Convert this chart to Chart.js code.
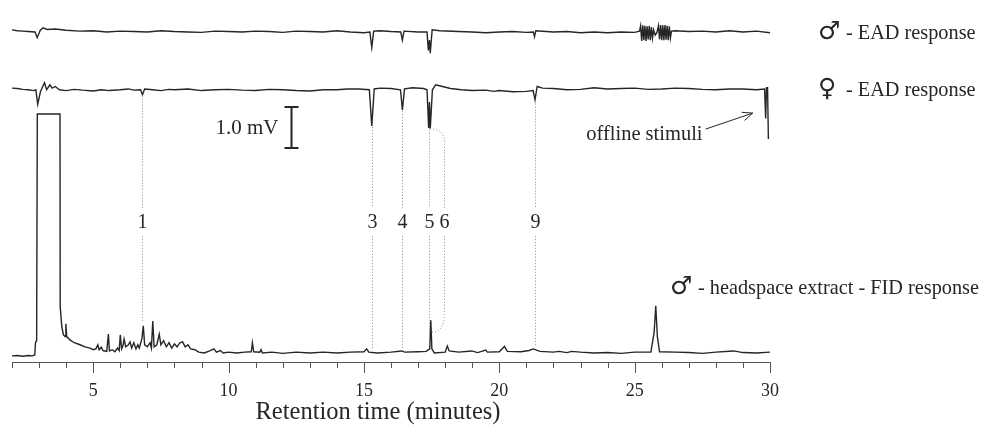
<!DOCTYPE html>
<html>
<head>
<meta charset="utf-8">
<script src="https://cdn.jsdelivr.net/npm/chart.js@4.4.0/dist/chart.umd.min.js"></script>
<style>
  html, body { margin: 0; padding: 0; background: #fff; }
  #wrap { width: 982px; height: 430px; }
</style>
</head>
<body>
<div id="wrap"><canvas id="gcead" width="982" height="430"></canvas></div>
<script>
// retention time axis (minutes)
const timeMin = 2;
const timeMax = 30;
const axisTitle = "Retention time (minutes)";

// FID trace of the male headspace extract: [minutes, mV above baseline]
const fidTrace = [
  [2.0,-0.07],[2.2,-0.06],[2.4,-0.08],[2.6,-0.06],[2.75,-0.07],[2.84,-0.05],[2.87,0.26],[2.91,0.3],
  [2.935,5.83],[3.773,5.83],[3.78,1.13],[3.84,0.64],[3.9,0.44],[3.96,0.4],[3.99,0.71],[4.02,0.4],
  [4.14,0.32],[4.3,0.25],[4.51,0.2],[4.7,0.15],[4.88,0.12],[5.0,0.08],[5.1,0.1],[5.17,0.2],[5.22,0.08],
  [5.3,0.14],[5.36,0.06],[5.5,0.04],[5.56,0.46],[5.6,0.05],[5.7,0.08],[5.8,0.03],[5.9,0.12],[5.96,0.06],
  [6.0,0.44],[6.05,0.1],[6.1,0.18],[6.14,0.34],[6.2,0.15],[6.3,0.2],[6.36,0.27],[6.42,0.12],[6.5,0.25],
  [6.58,0.1],[6.65,0.2],[6.7,0.12],[6.8,0.35],[6.85,0.66],[6.9,0.2],[7.0,0.15],[7.1,0.25],[7.15,0.12],
  [7.2,0.78],[7.25,0.15],[7.35,0.2],[7.44,0.46],[7.5,0.2],[7.6,0.3],[7.7,0.15],[7.8,0.25],[7.9,0.12],
  [8.0,0.22],[8.1,0.15],[8.2,0.25],[8.3,0.27],[8.4,0.15],[8.5,0.2],[8.6,0.1],[8.75,0.08],[8.9,0.02],
  [9.1,0.0],[9.3,0.05],[9.46,0.1],[9.55,0.02],[9.7,0.06],[9.8,0.0],[10.0,0.02],[10.3,0.0],[10.6,0.02],
  [10.84,0.03],[10.88,0.25],[10.93,0.03],[11.15,0.02],[11.2,0.08],[11.25,0.0],[11.6,0.02],[12.0,-0.01],
  [12.5,0.02],[13.0,0.0],[13.5,0.02],[14.0,0.0],[14.5,0.02],[15.0,0.03],[15.1,0.1],[15.18,0.02],[15.5,0.0],
  [16.0,0.02],[16.4,0.05],[16.5,0.02],[17.0,0.03],[17.3,0.04],[17.43,0.1],[17.47,0.8],[17.51,0.1],[17.6,0.0],
  [18.0,0.02],[18.08,0.17],[18.15,0.05],[18.5,0.02],[18.98,0.05],[19.2,0.01],[19.5,0.07],[19.56,0.02],
  [20.0,0.03],[20.19,0.16],[20.3,0.04],[20.8,0.03],[21.1,0.06],[21.26,0.1],[21.5,0.04],[22.0,0.02],
  [22.2,0.04],[22.5,0.01],[22.67,0.04],[23.0,0.02],[23.5,0.0],[24.0,0.01],[24.5,-0.01],[25.0,0.02],
  [25.6,0.02],[25.72,0.5],[25.78,1.15],[25.84,0.4],[25.92,0.03],[26.5,0.02],[27.0,0.01],[27.5,-0.01],
  [28.0,0.02],[28.66,0.05],[29.0,0.01],[29.5,0.0],[30.0,0.02]
];

// female antenna EAD: [minutes, mV from resting level]
const femaleEad = [
  [2.0,0.04],[2.2,0.03],[2.4,0.01],[2.6,0.0],[2.8,-0.02],[2.88,0.0],[2.95,-0.35],[3.05,-0.05],[3.2,0.17],
  [3.28,0.0],[3.4,0.12],[3.48,0.04],[3.6,0.08],[3.75,0.0],[4.0,-0.02],[4.3,0.01],[4.6,-0.01],[5.0,-0.03],
  [5.3,0.0],[5.6,-0.02],[6.0,0.0],[6.3,0.02],[6.5,-0.01],[6.75,0.0],[6.82,-0.12],[6.9,0.02],[7.2,0.0],
  [7.5,-0.02],[7.8,0.01],[8.0,0.0],[8.5,0.02],[9.0,-0.02],[9.5,0.0],[10.0,0.01],[10.5,-0.01],[11.0,-0.02],
  [11.5,0.01],[12.0,0.0],[12.5,-0.02],[13.0,-0.03],[13.5,0.0],[14.0,0.0],[14.4,0.02],[14.8,0.02],[15.2,0.0],
  [15.29,-0.88],[15.38,0.02],[15.6,0.04],[16.0,0.03],[16.35,0.0],[16.42,-0.49],[16.5,0.02],[16.8,0.05],
  [17.2,0.03],[17.33,0.0],[17.37,-0.6],[17.39,-0.93],[17.42,-0.3],[17.45,-0.95],[17.53,0.0],[17.65,0.12],
  [17.9,0.08],[18.2,0.03],[18.6,0.0],[19.0,-0.02],[19.5,-0.01],[19.8,-0.04],[20.0,-0.02],[20.5,-0.05],
  [21.0,-0.04],[21.25,-0.02],[21.32,-0.24],[21.4,0.08],[21.6,0.04],[22.0,0.03],[22.5,0.0],[23.0,0.01],
  [23.5,0.05],[24.0,0.02],[24.5,0.03],[25.0,0.04],[25.5,0.01],[26.0,0.02],[26.5,0.04],[27.0,0.03],
  [27.5,0.01],[28.0,0.0],[28.5,0.02],[29.0,0.02],[29.5,0.0],[29.8,0.02],[29.84,-0.7],[29.87,0.05],
  [29.91,0.05],[29.94,-1.2]
];

// male antenna EAD: [minutes, mV from resting level]
const maleEad = [
  [2.0,0.05],[2.2,0.03],[2.4,0.02],[2.6,0.01],[2.85,0.0],[2.93,-0.14],[3.05,0.05],[3.15,0.1],[3.3,0.06],
  [3.6,0.07],[4.0,0.04],[4.5,0.02],[5.0,0.03],[5.5,0.0],[6.0,0.02],[6.5,0.01],[7.0,0.0],[7.5,0.03],
  [8.0,0.01],[8.5,0.0],[9.0,-0.01],[9.5,0.02],[10.0,0.01],[10.5,0.0],[11.0,0.02],[11.5,0.01],[12.0,-0.01],
  [12.5,0.02],[13.0,0.01],[13.5,0.0],[14.0,0.03],[14.5,0.0],[15.0,-0.02],[15.22,0.0],[15.29,-0.38],
  [15.36,0.02],[15.6,0.03],[16.0,0.01],[16.36,0.0],[16.42,-0.2],[16.48,0.02],[17.0,0.0],[17.33,0.0],
  [17.38,-0.45],[17.42,-0.2],[17.45,-0.52],[17.52,0.05],[17.8,0.03],[18.5,0.01],[19.0,0.0],[19.5,-0.02],
  [20.0,0.0],[20.5,0.01],[21.0,-0.01],[21.26,0.0],[21.3,-0.12],[21.35,0.03],[22.0,0.0],[22.5,0.01],
  [23.0,-0.02],[23.5,0.0],[24.0,-0.02],[24.5,0.0],[25.0,-0.01],[25.18,0.02],
  [25.22,0.15],[25.26,-0.22],[25.3,0.16],[25.34,-0.2],[25.38,0.15],[25.42,-0.22],[25.46,0.14],[25.5,-0.18],
  [25.54,0.15],[25.58,-0.2],[25.62,0.12],[25.66,-0.15],[25.7,0.05],[25.76,-0.08],[25.82,-0.02],[25.88,0.15],
  [25.92,-0.18],[25.96,0.17],[26.0,-0.2],[26.04,0.16],[26.08,-0.2],[26.12,0.17],[26.16,-0.19],[26.2,0.15],
  [26.24,-0.2],[26.28,0.14],[26.32,-0.15],[26.36,0.02],[26.5,0.03],[27.0,0.01],[27.5,0.02],[28.0,0.0],
  [28.5,0.03],[29.0,0.0],[29.5,0.02],[30.0,-0.02]
];

// vertical stacking of the traces (mV)
const femaleOffset = 6.42;
const maleOffset = 7.83;

// EAD-active compounds
const peakNumbers = ["1", "3", "4", "5", "6", "9"];
const peakTimes = [6.8, 15.29, 16.42, 17.39, 17.96, 21.31];

// trace captions
const traceSymbols = ["\u2642", "\u2640", "\u2642"];
const traceCaptions = ["- EAD response", "- EAD response", "- headspace extract - FID response"];
const scaleBarText = "1.0 mV";
const stimuliText = "offline stimuli";

const serif = '"Liberation Serif", "Times New Roman", serif';
const ink = "#262626";

function toPoints(trace, offset) {
  return trace.map(p => ({ x: p[0], y: p[1] + offset }));
}

// value of a trace near a time (min or max)
function traceNear(trace, t, pick) {
  const vals = trace.filter(p => Math.abs(p[0] - t) <= 0.06).map(p => p[1]);
  return vals.length ? pick(...vals) : 0;
}

const annotations = {
  id: "gcAnnotations",
  afterDraw(chart) {
    const { ctx, chartArea, scales: { x, y } } = chart;
    ctx.save();

    // tick marks, long every 5 minutes
    ctx.strokeStyle = "#555";
    ctx.lineWidth = 1;
    x.ticks.forEach(t => {
      const px = Math.round(x.getPixelForValue(t.value)) + 0.5;
      const len = t.value % 5 === 0 ? 11 : 6;
      ctx.beginPath();
      ctx.moveTo(px, chartArea.bottom);
      ctx.lineTo(px, chartArea.bottom + len);
      ctx.stroke();
    });

    // axis title
    ctx.fillStyle = ink;
    ctx.font = "24.5px " + serif;
    ctx.textAlign = "center";
    ctx.textBaseline = "middle";
    ctx.fillText(axisTitle, x.getPixelForValue(15.52), chartArea.bottom + 51);

    // dotted guides and compound numbers
    const labelY = y.getPixelForValue(3.2);
    ctx.strokeStyle = "#8a8a8a";
    ctx.setLineDash([1, 2]);
    ctx.font = "20px " + serif;
    peakNumbers.forEach((num, i) => {
      const t = peakTimes[i];
      const px = Math.round(x.getPixelForValue(t)) + 0.5;
      ctx.fillText(num, px, labelY + 1);
      if (num === "6") {
        // bracket joining 6 to the double response at 5
        const x5 = x.getPixelForValue(17.44);
        const topY = y.getPixelForValue(traceNear(femaleEad, 17.45, Math.min) + femaleOffset);
        const botY = y.getPixelForValue(traceNear(fidTrace, 17.47, Math.max)) + 12;
        ctx.beginPath();
        ctx.moveTo(x5, topY);
        ctx.quadraticCurveTo(px, topY, px, topY + 14);
        ctx.lineTo(px, labelY - 14);
        ctx.moveTo(px, labelY + 14);
        ctx.lineTo(px, botY - 20);
        ctx.quadraticCurveTo(px, botY, x5 + 2, botY);
        ctx.stroke();
        return;
      }
      const top = y.getPixelForValue(traceNear(femaleEad, t, Math.min) + femaleOffset) + 1;
      const bottom = y.getPixelForValue(traceNear(fidTrace, t, Math.max)) - 3;
      ctx.beginPath();
      ctx.moveTo(px, top);
      ctx.lineTo(px, labelY - 14);
      ctx.moveTo(px, labelY + 14);
      ctx.lineTo(px, bottom);
      ctx.stroke();
    });
    ctx.setLineDash([]);

    // 1 mV scale bar
    const bx = Math.round(x.getPixelForValue(12.31)) + 0.5;
    const b0 = y.getPixelForValue(5.0);
    const b1 = y.getPixelForValue(6.0);
    ctx.strokeStyle = ink;
    ctx.lineWidth = 2;
    ctx.beginPath();
    ctx.moveTo(bx, b0); ctx.lineTo(bx, b1);
    ctx.moveTo(bx - 7, b0); ctx.lineTo(bx + 7, b0);
    ctx.moveTo(bx - 7, b1); ctx.lineTo(bx + 7, b1);
    ctx.stroke();
    ctx.textAlign = "right";
    ctx.font = "21px " + serif;
    ctx.fillText(scaleBarText, bx - 13, (b0 + b1) / 2 + 1);

    // offline stimuli arrow
    ctx.font = "20.5px " + serif;
    const ax0 = x.getPixelForValue(27.62), ay0 = y.getPixelForValue(5.46);
    const ax1 = x.getPixelForValue(29.36), ay1 = y.getPixelForValue(5.85);
    ctx.fillText(stimuliText, ax0 - 3, ay0 + 5);
    ctx.lineWidth = 1;
    ctx.beginPath();
    ctx.moveTo(ax0, ay0); ctx.lineTo(ax1, ay1);
    const ang = Math.atan2(ay1 - ay0, ax1 - ax0);
    ctx.moveTo(ax1 - 11 * Math.cos(ang - 0.4), ay1 - 11 * Math.sin(ang - 0.4));
    ctx.lineTo(ax1, ay1);
    ctx.lineTo(ax1 - 11 * Math.cos(ang + 0.4), ay1 - 11 * Math.sin(ang + 0.4));
    ctx.stroke();

    // trace captions on the right
    const rows = [
      { y: y.getPixelForValue(maleOffset) + 1, sx: 818, tx: 846 },
      { y: y.getPixelForValue(femaleOffset), sx: 818, tx: 846 },
      { y: y.getPixelForValue(1.6), sx: 670, tx: 698 }
    ];
    rows.forEach((r, i) => {
      ctx.textAlign = "left";
      ctx.font = "25px \"DejaVu Sans\", sans-serif";
      ctx.fillText(traceSymbols[i], r.sx, r.y);
      ctx.font = "20.3px " + serif;
      ctx.fillText(traceCaptions[i], r.tx, r.y + 1);
    });
    ctx.restore();
  }
};

const lineStyle = { showLine: true, borderColor: ink, borderWidth: 1.4, pointRadius: 0, tension: 0, fill: false };

new Chart(document.getElementById("gcead").getContext("2d"), {
  type: "scatter",
  data: {
    datasets: [
      Object.assign({ label: "FID", data: toPoints(fidTrace, 0) }, lineStyle),
      Object.assign({ label: "female EAD", data: toPoints(femaleEad, femaleOffset) }, lineStyle),
      Object.assign({ label: "male EAD", data: toPoints(maleEad, maleOffset) }, lineStyle)
    ]
  },
  options: {
    responsive: false,
    animation: false,
    layout: { padding: { left: 12, right: 212, top: 0, bottom: 0 } },
    plugins: { legend: { display: false }, tooltip: { enabled: false } },
    scales: {
      x: {
        type: "linear",
        min: timeMin,
        max: timeMax,
        afterFit(scale) {
          scale.height = 68;
          scale.paddingLeft = 0;
          scale.paddingRight = 0;
        },
        grid: { display: false, drawTicks: false },
        border: { display: true, color: "#555", width: 1 },
        ticks: {
          stepSize: 1,
          padding: 18,
          color: ink,
          font: { family: serif, size: 18 },
          maxRotation: 0,
          autoSkip: false,
          callback: v => (v % 5 === 0 ? String(v) : "")
        },
        title: { display: false }
      },
      y: { display: false, min: -0.22, max: 8.609 }
    }
  },
  plugins: [annotations]
});
</script>
</body>
</html>
